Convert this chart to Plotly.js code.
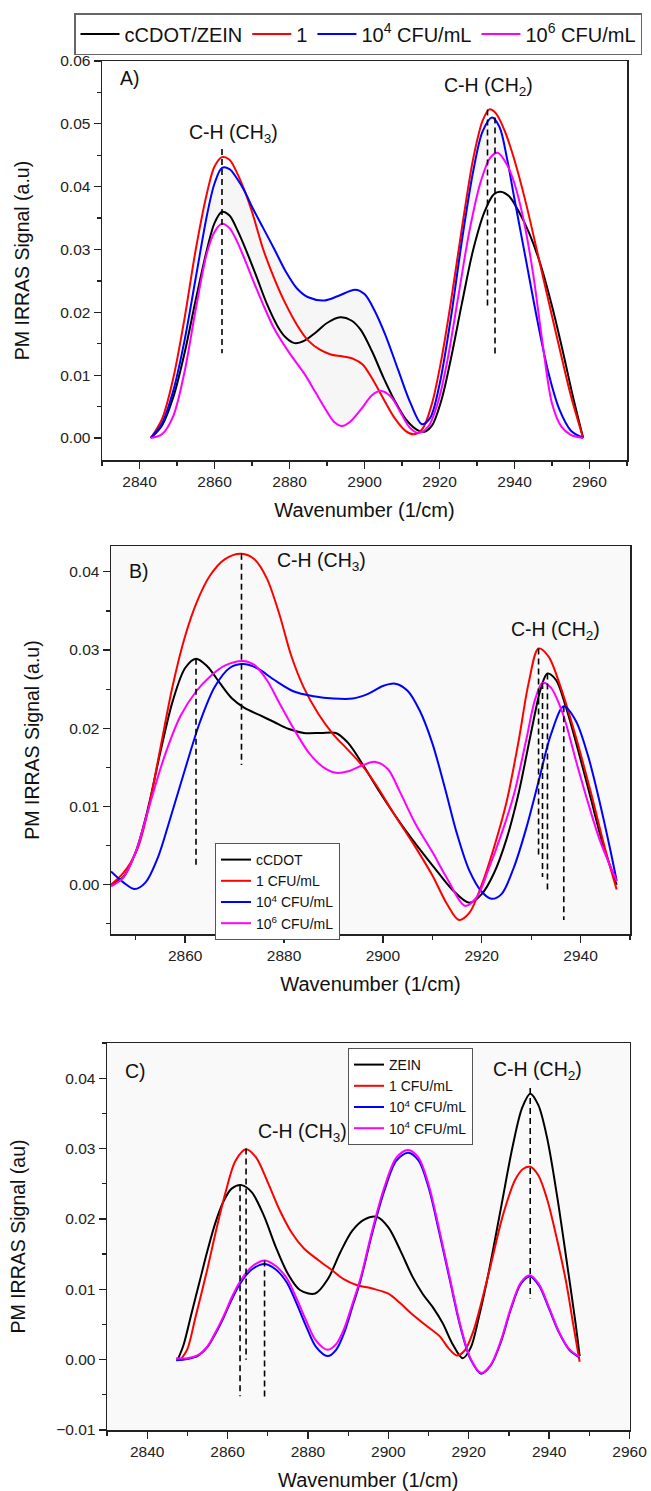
<!DOCTYPE html>
<html><head><meta charset="utf-8">
<script src="https://cdn.plot.ly/plotly-3.0.1.min.js"></script>
<style>html,body{margin:0;padding:0;background:#fff}#chart{width:651px;height:1491px}</style>
</head><body><div id="chart"></div>
<script>
// ---------- Panel A : [wavenumber, signal] ----------
const aBlack = [[2843,0],[2846,0.002],[2849,0.0065],[2852,0.0135],[2855,0.022],[2858,0.030],[2860,0.0342],[2862,0.036],[2864,0.0354],[2866,0.0332],[2868,0.0305],[2871,0.026],[2874,0.0213],[2877,0.0176],[2879,0.016],[2881.4,0.0151],[2884,0.0155],[2887,0.0168],[2890,0.0183],[2893.5,0.0192],[2896.5,0.0187],[2899,0.0172],[2902,0.0138],[2905,0.0097],[2908,0.006],[2911,0.003],[2914,0.0013],[2916,0.001],[2918,0.002],[2920.5,0.006],[2923,0.0125],[2926,0.0215],[2929,0.030],[2932,0.036],[2934.5,0.0388],[2936.3,0.0392],[2938.5,0.0385],[2941,0.0362],[2944,0.0325],[2947,0.0275],[2950,0.021],[2953,0.0135],[2955.5,0.0068],[2958.3,0]];
const aRed = [[2843,0],[2846,0.003],[2849,0.0095],[2852,0.019],[2855,0.030],[2858,0.039],[2860,0.0432],[2862,0.0447],[2864,0.0443],[2866,0.0422],[2868,0.0394],[2870,0.036],[2873,0.030],[2876,0.0253],[2879,0.0213],[2882,0.018],[2885,0.0155],[2888,0.0141],[2891,0.0133],[2894,0.013],[2897,0.0126],[2899.5,0.0117],[2902,0.0095],[2905,0.0063],[2908,0.0032],[2911,0.0011],[2913.2,0.0006],[2915.5,0.0015],[2918,0.0055],[2920.5,0.0125],[2923,0.0215],[2926,0.0335],[2929,0.0445],[2931.5,0.0505],[2933.3,0.0523],[2935,0.0517],[2937.5,0.0487],[2940,0.0442],[2943,0.0375],[2946,0.0298],[2949,0.022],[2952,0.0143],[2955,0.0068],[2958.3,0]];
const aBlue = [[2843,0],[2846,0.0023],[2849,0.0075],[2852,0.0155],[2855,0.0255],[2858,0.0355],[2860,0.0405],[2862,0.043],[2864,0.0428],[2866,0.0413],[2868,0.0393],[2870,0.0368],[2873,0.0334],[2876,0.030],[2879,0.0265],[2882,0.0238],[2885,0.0224],[2889.4,0.0219],[2893,0.0226],[2897.5,0.0236],[2900,0.0229],[2902.5,0.0205],[2905.5,0.0165],[2909,0.0108],[2912.3,0.0055],[2915.3,0.0022],[2917.5,0.0032],[2920,0.0085],[2923,0.019],[2926,0.0315],[2929,0.0425],[2931.5,0.0488],[2934,0.051],[2936,0.0495],[2938,0.0445],[2940,0.038],[2943,0.0285],[2946,0.019],[2949,0.0105],[2952,0.0045],[2955,0.0012],[2958.3,0]];
const aMagenta = [[2843,0],[2846,0.0006],[2849,0.0035],[2852,0.0105],[2855,0.0205],[2858,0.0295],[2860,0.0328],[2862,0.0341],[2864,0.0334],[2866,0.0313],[2868,0.0285],[2870,0.0255],[2873,0.0212],[2876,0.0173],[2880,0.0135],[2884,0.0102],[2887,0.0072],[2890,0.0042],[2892,0.0025],[2894,0.0019],[2896,0.0025],[2899,0.0045],[2902,0.0068],[2904.5,0.0075],[2907,0.0066],[2909.5,0.0042],[2912,0.0017],[2914.4,0.0008],[2917,0.0018],[2919.5,0.0055],[2922,0.012],[2925,0.0225],[2928,0.033],[2931,0.0408],[2933.5,0.0446],[2935.5,0.0454],[2938,0.0435],[2940,0.0405],[2942.5,0.0345],[2945,0.026],[2947.5,0.015],[2950,0.0055],[2952.5,0.0018],[2955,0.0005],[2958.3,0]];
const aDashX = [2862,2932.8,2934.8];
const aDashTop = [0.046,0.0523,0.051];
const aDashBottom = [0.0135,0.0207,0.0132];

// ---------- Panel B ----------
const bBlack = [[2845,0],[2847.5,0.001],[2850,0.0042],[2852.5,0.0098],[2855,0.017],[2857.5,0.0235],[2860,0.0277],[2862.2,0.0289],[2864.5,0.0279],[2867,0.0258],[2869.5,0.0238],[2872,0.0226],[2875,0.0217],[2878,0.0208],[2881,0.0199],[2884,0.0194],[2887.5,0.0194],[2890.5,0.0194],[2893,0.0181],[2896,0.0153],[2899,0.0122],[2902,0.0093],[2905,0.0066],[2908,0.0041],[2911,0.0017],[2914,-0.0006],[2917.5,-0.0023],[2920,-0.0012],[2922.5,0.0015],[2925,0.0058],[2927.5,0.0118],[2930,0.0195],[2932,0.0252],[2933.3,0.027],[2935,0.0262],[2937,0.0228],[2939.5,0.0172],[2942,0.0112],[2944.5,0.0052],[2947.3,0]];
const bRed = [[2845,0],[2847.5,0.0015],[2850.3,0.0045],[2852.5,0.0095],[2855,0.0175],[2857.5,0.0255],[2860,0.0318],[2862.4,0.0362],[2865,0.0395],[2868,0.0416],[2871.4,0.0423],[2874,0.0416],[2876.5,0.0392],[2879,0.0347],[2881.5,0.0292],[2884,0.0252],[2887,0.0218],[2890,0.0192],[2893,0.0172],[2896,0.0151],[2899,0.0124],[2902,0.0093],[2906.5,0.0049],[2910,0.0012],[2913,-0.0025],[2915.4,-0.0045],[2917.5,-0.0036],[2920,0],[2922.5,0.0048],[2925,0.0105],[2927.5,0.0185],[2929.5,0.0258],[2931.5,0.0302],[2933.5,0.0292],[2936,0.0252],[2939,0.019],[2942,0.012],[2945,0.0045],[2947.3,-0.0006]];
const bBlue = [[2845,0.0017],[2847.5,0.0003],[2849.8,-0.00055],[2852,0.0003],[2854.5,0.0035],[2857,0.0085],[2860,0.0148],[2863,0.0208],[2866,0.0253],[2869,0.0277],[2871.7,0.0282],[2874.5,0.0277],[2878,0.0262],[2882,0.0247],[2886,0.0241],[2890,0.0238],[2893.9,0.0238],[2897,0.0244],[2900,0.0254],[2902.5,0.0257],[2905,0.0248],[2907.5,0.0222],[2910,0.0181],[2912.5,0.0125],[2915,0.0065],[2917.5,0.0018],[2920,-0.0009],[2922,-0.0018],[2924,-0.0012],[2926.5,0.0022],[2929,0.0072],[2931.5,0.0132],[2934,0.0192],[2936.6,0.0228],[2939,0.021],[2941.5,0.0165],[2944,0.0102],[2946,0.0045],[2947.3,0.0005]];
const bMagenta = [[2845,-0.0002],[2847.5,0.0009],[2850,0.0042],[2852.5,0.0095],[2855.6,0.016],[2859,0.0215],[2862.2,0.0247],[2865,0.0266],[2868,0.028],[2871.7,0.0286],[2874,0.0281],[2876.5,0.0262],[2879,0.0233],[2882,0.0199],[2885,0.0169],[2888,0.015],[2890.5,0.0143],[2893,0.0145],[2896,0.0153],[2898.5,0.0157],[2901,0.0148],[2903.5,0.0118],[2906.5,0.0079],[2910,0.0042],[2913,0.0008],[2916.6,-0.0027],[2919,-0.0016],[2921.5,0.0022],[2924,0.0065],[2926.5,0.0115],[2929,0.0185],[2930.8,0.0237],[2932.3,0.0258],[2934,0.0252],[2936.5,0.0217],[2939,0.016],[2941.5,0.0105],[2944,0.0055],[2947.3,0.0005]];
const bDashX = [2862.2,2871.4,2931.5,2932.3,2933.3,2936.6];
const bDashTop = [0.0289,0.0423,0.0302,0.0258,0.027,0.0228];
const bDashBottom = [0.0022,0.0153,0.0034,0.001,-0.001,-0.0045];

// ---------- Panel C ----------
const cBlack = [[2847.6,0],[2849,0.002],[2851,0.0065],[2853,0.011],[2855,0.0155],[2857,0.0195],[2859,0.0225],[2861,0.0243],[2863.5,0.0248],[2866,0.0238],[2869,0.0205],[2872,0.016],[2875,0.0122],[2878,0.0099],[2881.8,0.0094],[2885,0.0115],[2888,0.0152],[2891,0.0183],[2894,0.0199],[2897.1,0.0203],[2900,0.0188],[2903,0.0155],[2906,0.0118],[2908.6,0.0093],[2911,0.0075],[2913.5,0.0052],[2916,0.0022],[2918.5,0.0002],[2920.5,0.0017],[2922.5,0.006],[2925,0.0125],[2928,0.0215],[2931,0.0305],[2933.3,0.0358],[2935.3,0.0378],[2937.3,0.0362],[2939.5,0.0315],[2942,0.0232],[2944.5,0.0135],[2946.5,0.0055],[2947.6,0.0005]];
const cRed = [[2848.3,0],[2850,0.0015],[2852,0.006],[2854.9,0.0127],[2857,0.018],[2859.5,0.0238],[2862,0.0283],[2864.6,0.0299],[2867,0.0288],[2870,0.0252],[2873,0.0212],[2876,0.018],[2879,0.0158],[2882.7,0.0141],[2886,0.0127],[2889,0.0114],[2892.1,0.0106],[2896,0.0101],[2899.9,0.0094],[2903,0.008],[2906,0.0064],[2909.7,0.0047],[2912.8,0.0033],[2915,0.0016],[2917,0.0006],[2919,0.0013],[2921,0.0038],[2923,0.0078],[2925.5,0.0135],[2928.5,0.0205],[2931.5,0.0255],[2933.5,0.0271],[2935.3,0.0274],[2937.3,0.0262],[2939.5,0.0228],[2942,0.017],[2944.3,0.0108],[2946,0.005],[2947.6,-0.0003]];
const cBlue = [[2847.2,-0.0001],[2850,0.0001],[2852.5,0.0005],[2855,0.0018],[2857,0.0037],[2859.1,0.0061],[2861,0.0085],[2863,0.0107],[2866,0.0128],[2869.3,0.0136],[2872,0.0128],[2874.7,0.011],[2877,0.0082],[2879.5,0.0048],[2882,0.0018],[2884.9,0.0005],[2887,0.0014],[2889,0.0038],[2891,0.0074],[2893.1,0.0113],[2896,0.018],[2899,0.024],[2902,0.0283],[2904.9,0.0294],[2907.5,0.0283],[2910,0.0245],[2912.5,0.0185],[2915.3,0.0113],[2918,0.0045],[2920.5,0],[2923.1,-0.002],[2925.5,-0.0008],[2928,0.0025],[2930.5,0.0072],[2933,0.0108],[2935.2,0.0118],[2937.5,0.0105],[2940,0.0072],[2942.5,0.0038],[2945,0.0014],[2947.6,0.0003]];
const cMagenta = [[2847.2,0.0002],[2850,0.0002],[2852.5,0.0006],[2855,0.0019],[2857,0.0039],[2859.1,0.0063],[2861,0.0088],[2863,0.011],[2866,0.0132],[2869.3,0.0141],[2872,0.0133],[2874.7,0.0116],[2877,0.0089],[2879.5,0.0056],[2882,0.0027],[2884.9,0.0014],[2887,0.0022],[2889,0.0044],[2891,0.0078],[2893.1,0.0116],[2896,0.0184],[2899,0.0245],[2902,0.0287],[2904.9,0.0298],[2907.5,0.0287],[2910,0.0249],[2912.5,0.0189],[2915.3,0.0116],[2918,0.0047],[2920.5,0.0001],[2923.1,-0.0019],[2925.5,-0.0007],[2928,0.0027],[2930.5,0.0074],[2933,0.011],[2935.2,0.012],[2937.5,0.0107],[2940,0.0074],[2942.5,0.0039],[2945,0.0015],[2947.6,0.0004]];
const cDashX = [2863.1,2864.6,2869.2,2935.3];
const cDashTop = [0.0248,0.030,0.0141,0.0386];
const cDashBottom = [-0.0052,0.0,-0.0053,0.0087];

// ---------- labels ----------
const legendA = ['cCDOT/ZEIN','1','10<sup>4</sup> CFU/mL','10<sup>6</sup> CFU/mL'];
const legendB = ['cCDOT','1 CFU/mL','10<sup>4</sup> CFU/mL','10<sup>6</sup> CFU/mL'];
const legendC = ['ZEIN','1 CFU/mL','10<sup>4</sup> CFU/mL','10<sup>4</sup> CFU/mL'];
const colors = ['#000000','#ff0000','#0000ff','#ff00ff'];
const FONT = 'Arial, "Liberation Sans", sans-serif';

const xs = s => s.map(p=>p[0]);
const ys = s => s.map(p=>p[1]);
const traces = [];
// faint shading between the upper and lower curves of panel A
traces.push({x: xs(aBlue).concat(xs(aMagenta).reverse()), y: ys(aBlue).concat(ys(aMagenta).reverse()),
  type:'scatter', mode:'lines', fill:'toself', fillcolor:'rgba(0,0,0,0.035)', line:{width:0, shape:'spline'},
  hoverinfo:'skip', showlegend:false, xaxis:'x', yaxis:'y'});

function addSeries(series, names, xa, ya, leg){
  series.forEach((s,i)=>{
    traces.push({x:xs(s), y:ys(s), type:'scatter', mode:'lines', name:names[i],
      line:{color:colors[i], width:2, shape:'spline', smoothing:0.9},
      xaxis:xa, yaxis:ya, legend:leg});
  });
}
function addDashes(dx, dt, db, xa, ya){
  dx.forEach((x,i)=>{
    traces.push({x:[x,x], y:[dt[i],db[i]], type:'scatter', mode:'lines',
      line:{color:'#000', width:1.6, dash:'6px,4px'}, showlegend:false, hoverinfo:'skip', xaxis:xa, yaxis:ya});
  });
}
addSeries([aBlack,aRed,aBlue,aMagenta],legendA,'x','y','legend');
addDashes(aDashX,aDashTop,aDashBottom,'x','y');
addSeries([bBlack,bRed,bBlue,bMagenta],legendB,'x2','y2','legend2');
addDashes(bDashX,bDashTop,bDashBottom,'x2','y2');
addSeries([cBlack,cRed,cBlue,cMagenta],legendC,'x3','y3','legend3');
addDashes(cDashX,cDashTop,cDashBottom,'x3','y3');

const W=651, H=1491;
const px = (a,b)=>[a/W, b/W];
const py = (top,bottom)=>[1-bottom/H, 1-top/H];

function xax(range, domain, anchor){
  return {range:range, domain:domain, anchor:anchor, showgrid:false, zeroline:false,
    showline:true, mirror:true, linecolor:'#222', linewidth:1.5,
    ticks:'outside', ticklen:7, tickwidth:1.3, tickcolor:'#222',
    tick0:2840, dtick:20, minor:{ticks:'outside', dtick:10, tick0:2830, ticklen:4, tickwidth:1.2, tickcolor:'#222'},
    tickfont:{family:FONT, size:15.5, color:'#222'},
    title:{text:'Wavenumber (1/cm)', font:{family:FONT, size:20, color:'#111'}, standoff:14},
    automargin:false};
}
function yax(range, domain, anchor, title, standoff){
  return {range:range, domain:domain, anchor:anchor, showgrid:false, zeroline:false,
    showline:true, mirror:true, linecolor:'#222', linewidth:1.5,
    ticks:'outside', ticklen:7, tickwidth:1.3, tickcolor:'#222',
    tick0:0, dtick:0.01, tickformat:'.2f',
    minor:{ticks:'outside', dtick:0.005, ticklen:4, tickwidth:1.2, tickcolor:'#222'},
    tickfont:{family:FONT, size:15.5, color:'#222'},
    title:{text:title, font:{family:FONT, size:19.5, color:'#111'}, standoff:standoff},
    automargin:false};
}

const ann = (text,x,y,xr,yr,xanchor)=>({text:text, x:x, y:y, xref:xr, yref:yr, showarrow:false,
  xanchor:xanchor||'center', font:{family:FONT, size:19.5, color:'#111'}});

const layout = {
  width:W, height:H, margin:{l:0,r:0,t:0,b:0}, paper_bgcolor:'#fff', plot_bgcolor:'rgba(0,0,0,0)',
  showlegend:true,
  xaxis: xax([2830,2970], px(102,627), 'y'),
  yaxis: yax([-0.0035,0.06], py(61,460), 'x', 'PM IRRAS Signal (a.u)', 25),
  xaxis2: xax([2845,2950], px(111,630), 'y2'),
  yaxis2: yax([-0.0063,0.0433], py(546,934), 'x2', 'PM IRRAS Signal (a.u)', 24),
  xaxis3: xax([2830,2960], px(107,629.5), 'y3'),
  yaxis3: yax([-0.01,0.045], py(1043,1430), 'x3', 'PM IRRAS Signal (au)', 25),
  legend:{orientation:'h', x:74/W, y:1-13/H, xanchor:'left', yanchor:'top', itemwidth:39,
    bgcolor:'#fff', bordercolor:'#666', borderwidth:1.5, font:{family:FONT, size:20, color:'#111'}},
  legend2:{x:215/W, y:1-843/H, xanchor:'left', yanchor:'top', tracegroupgap:0,
    bgcolor:'#fff', bordercolor:'#555', borderwidth:1, font:{family:FONT, size:14, color:'#111'}},
  legend3:{x:348/W, y:1-1048/H, xanchor:'left', yanchor:'top', tracegroupgap:0,
    bgcolor:'#fff', bordercolor:'#555', borderwidth:1, font:{family:FONT, size:14, color:'#111'}},
  shapes:[
    {type:'rect', xref:'x2 domain', yref:'y2 domain', x0:0, x1:1, y0:0, y1:1, fillcolor:'#f9f9f9', line:{width:0}, layer:'below'},
    {type:'rect', xref:'x3 domain', yref:'y3 domain', x0:0, x1:1, y0:0, y1:1, fillcolor:'#f9f9f9', line:{width:0}, layer:'below'}
  ],
  annotations:[
    ann('A)',0.03,0.99,'x domain','y domain','left'),
    ann('C-H (CH<sub>3</sub>)',2865,0.0485,'x','y'),
    ann('C-H (CH<sub>2</sub>)',2933,0.056,'x','y'),
    ann('B)',0.03,0.97,'x2 domain','y2 domain','left'),
    ann('C-H (CH<sub>3</sub>)',2887.5,0.0413,'x2','y2'),
    ann('C-H (CH<sub>2</sub>)',2935,0.0325,'x2','y2'),
    ann('C)',0.03,0.96,'x3 domain','y3 domain','left'),
    ann('C-H (CH<sub>3</sub>)',2878.7,0.0323,'x3','y3'),
    ann('C-H (CH<sub>2</sub>)',2937,0.0411,'x3','y3')
  ]
};
Plotly.newPlot('chart', traces, layout, {displayModeBar:false, staticPlot:true});
</script></body></html>
